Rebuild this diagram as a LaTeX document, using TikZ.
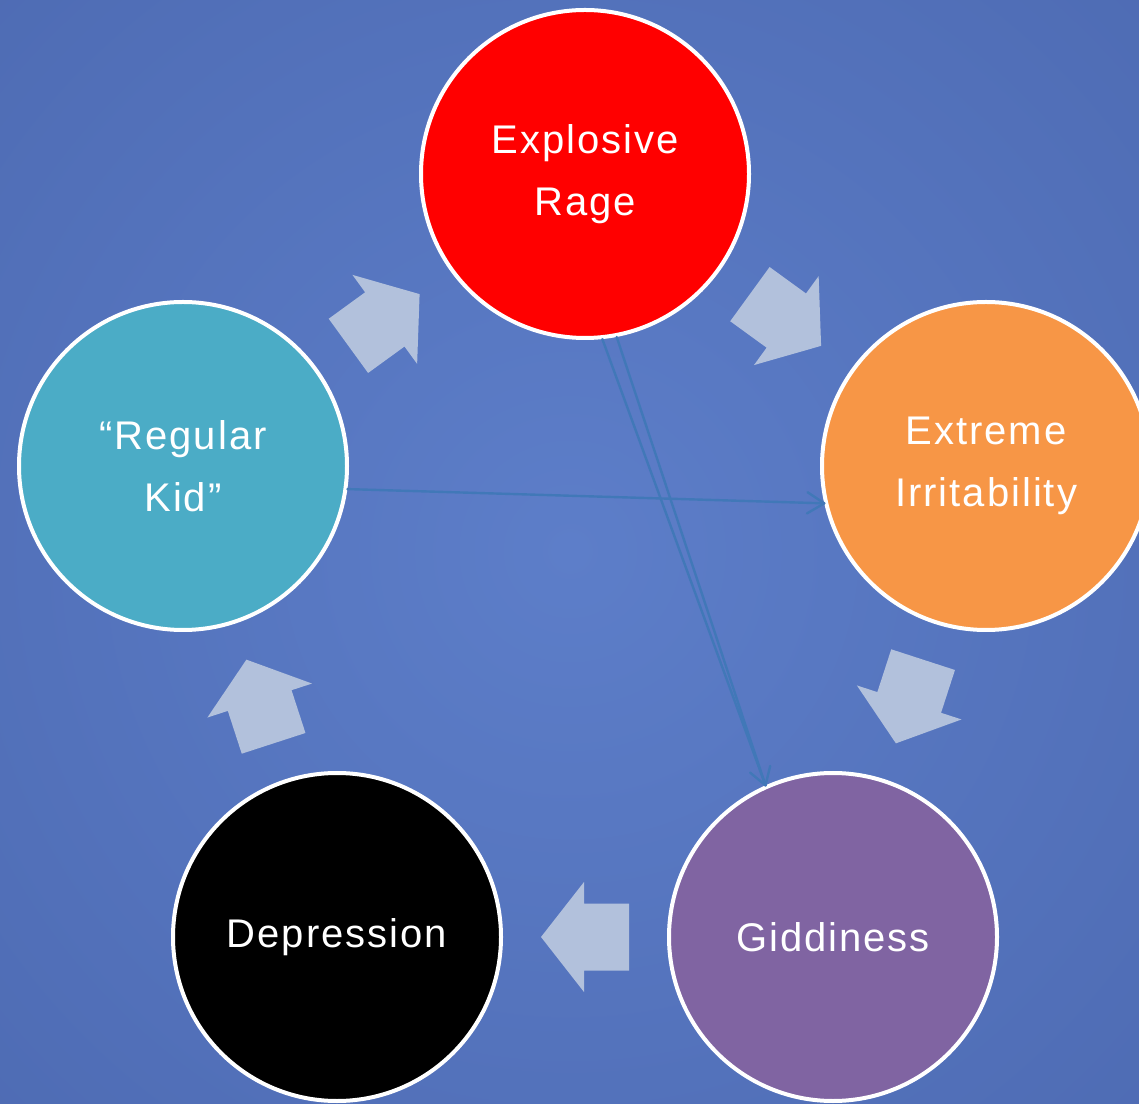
\documentclass[tikz,border=0pt]{standalone}
\usepackage{fontspec}
\setmainfont{Liberation Sans}
\usetikzlibrary{calc}

\definecolor{bgin}{HTML}{5D7EC9}
\definecolor{bgedge}{HTML}{4864AB}
\definecolor{bgcorner}{HTML}{3A5497}
\definecolor{ragered}{HTML}{FF0000}
\definecolor{irritorange}{HTML}{F79646}
\definecolor{giddypurple}{HTML}{8064A2}
\definecolor{kidteal}{HTML}{4BACC6}
\definecolor{blockfill}{HTML}{B2C1DC}
\definecolor{linkblue}{HTML}{4178B8}

\pgfdeclareradialshading{backglow}{\pgfpoint{0bp}{0bp}}{color(0bp)=(bgin); color(36bp)=(bgedge); color(50bp)=(bgcorner)}

\begin{document}
\begin{tikzpicture}[x=1pt,y=1pt,
         phase/.style = {circle, draw=white, line width=4pt,
         minimum size=328pt, inner sep=0pt, text=white, align=center,
         font=\fontsize{40}{62}\selectfont\addfontfeatures{LetterSpace=5}},
         link/.style = {draw=linkblue, line width=2.4pt, line cap=round,
         line join=round},
         pics/cyclearrow/.style = {code = {
            \fill[blockfill] (44,0) -- (1,55) -- (1,33.5) -- (-44,33.5)
            -- (-44,-33.5) -- (1,-33.5) -- (1,-55) -- cycle;}}
]
      \clip (0,0) rectangle (1139,1103);
      \shade[shading=backglow] (570,552) circle (800);

      % the five phases
      \node[phase, fill=ragered]     (rage)  at (585,929) {Explosive\\Rage};
      \node[phase, fill=irritorange] (irrit) at (986,637) {Extreme\\Irritability};
      \node[phase, fill=giddypurple] (giddy) at (833,166) {Giddiness};
      \node[phase, fill=black]       (depr)  at (337,166) {Depression};
      \node[phase, fill=kidteal]     (kid)   at (183,637) {“Regular\\Kid”};

      % block arrows round the cycle
      \pic[rotate=36]   at ($(kid)!0.5!(rage)$)   {cyclearrow};
      \pic[rotate=-36]  at ($(rage)!0.5!(irrit)$) {cyclearrow};
      \pic[rotate=-108] at ($(irrit)!0.5!(giddy)$) {cyclearrow};
      \pic[rotate=180]  at ($(giddy)!0.5!(depr)$) {cyclearrow};
      \pic[rotate=108]  at ($(depr)!0.5!(kid)$)   {cyclearrow};

      % thin connectors, open barbs at the far end
      \coordinate (kidout)   at (kid.-8);
      \coordinate (irritin)  at (irrit.-167);
      \coordinate (rageoutA) at (rage.-84);
      \coordinate (rageoutB) at (rage.-79);
      \coordinate (giddyin)  at (giddy.114);
      \coordinate (barbA1) at ($(irritin)!20pt!32:(kidout)$);
      \coordinate (barbA2) at ($(irritin)!20pt!-32:(kidout)$);
      \coordinate (barbB1) at ($(giddyin)!20pt!32:(rageoutB)$);
      \coordinate (barbB2) at ($(giddyin)!20pt!-32:(rageoutB)$);
      \draw[link] (kidout) -- (irritin);
      \draw[link] (barbA1) -- (irritin) -- (barbA2);
      \draw[link] (rageoutA) -- (giddyin);
      \draw[link] (rageoutB) -- (giddyin);
      \draw[link] (barbB1) -- (giddyin) -- (barbB2);
\end{tikzpicture}
\end{document}
